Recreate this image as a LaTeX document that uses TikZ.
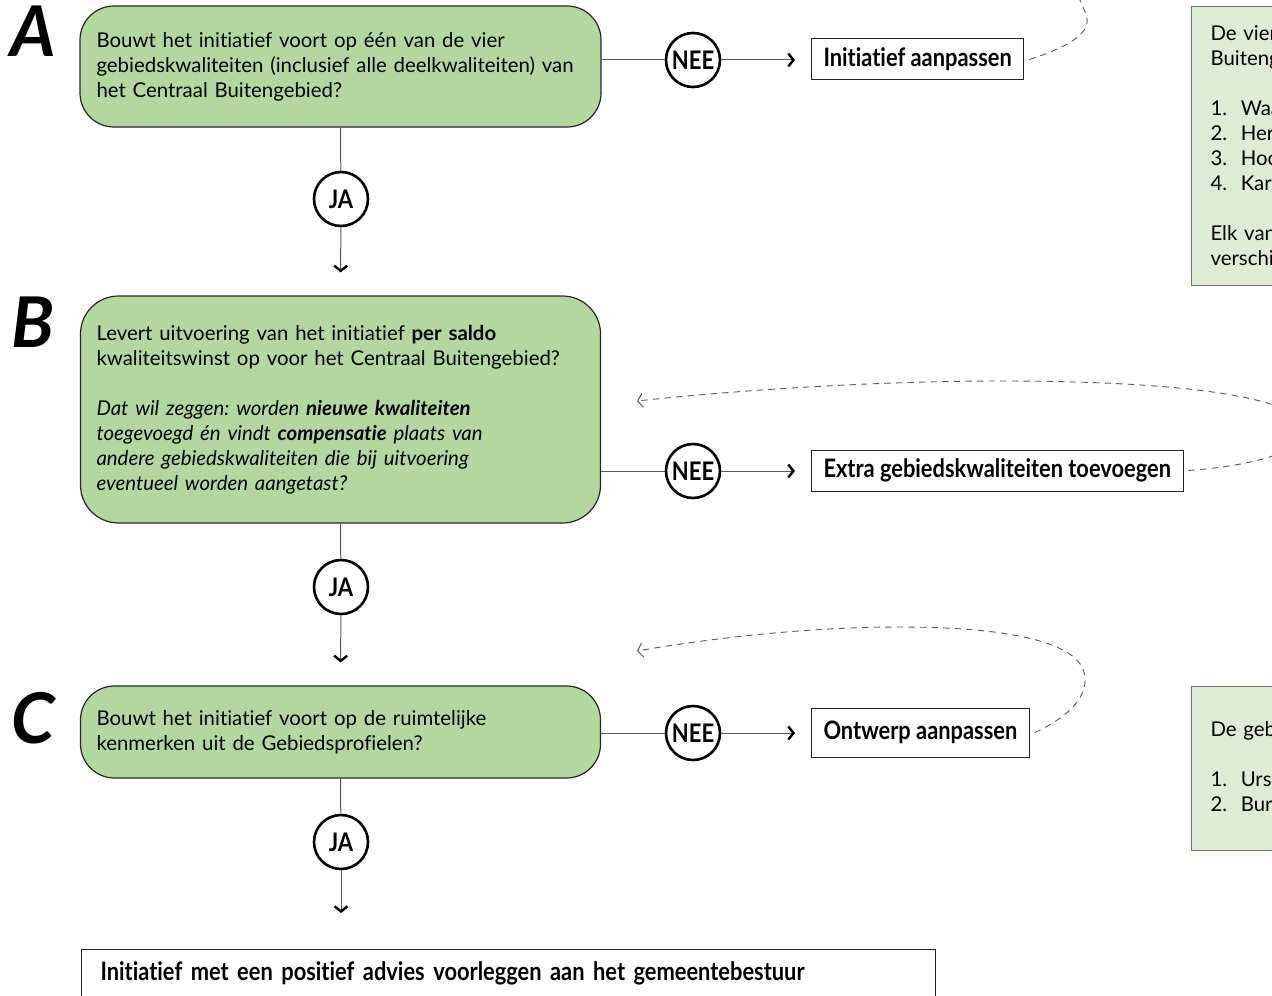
\documentclass[tikz,border=0pt]{standalone}
\usepackage{fontspec}
\setmainfont{Lato}[Ligatures=NoCommon]
\newfontfamily\smalfont[FakeStretch=0.86, Ligatures=NoCommon]{Lato}
\usetikzlibrary{arrows.meta,positioning,calc}
\definecolor{vraaggroen}{RGB}{178,216,160}
\definecolor{infogroen}{RGB}{221,237,213}
\definecolor{lijngrijs}{RGB}{90,90,90}
\frenchspacing

\begin{document}
\begin{tikzpicture}[
    x=0.5pt, y=-0.5pt,
    vraag/.style={draw=black!85, fill=vraaggroen, line width=0.6pt, rounded corners=17pt,
        inner xsep=8pt, text width=244pt, align=left, font=\fontsize{10.2}{12.5}\selectfont},
    letter/.style={font=\fontsize{35}{35}\selectfont\bfseries\itshape},
    keuze/.style={circle, draw, fill=white, line width=1.3pt, minimum size=27pt, inner sep=0pt,
        font=\smalfont\fontsize{12.8}{12.8}\selectfont\bfseries},
    actie/.style={draw=black!85, line width=0.5pt, anchor=west, minimum height=20.5pt, inner xsep=6pt,
        font=\smalfont\fontsize{12.7}{12.7}\selectfont\bfseries},
    info/.style={draw=black!55, fill=infogroen, line width=0.5pt, anchor=north west, inner xsep=9.5pt,
        text width=300pt, align=left, font=\fontsize{10.2}{12.5}\selectfont},
    lijn/.style={lijngrijs, line width=0.5pt},
    pijl/.style={-{Straight Barb[length=2.6pt, width=6.5pt, line width=1.2pt, color=black]}},
    terug/.style={lijngrijs, line width=0.45pt, dash pattern=on 3.2pt off 2.6pt,
        -{Straight Barb[length=2.5pt, width=7pt, line width=0.5pt]}}
]
    \useasboundingbox (0,0) rectangle (1272,995);
    \clip (0,0) rectangle (1272,995);

    % Vraag A
    \node[letter] (la) at (33,31) {A};
    \node[vraag, minimum width=260.5pt, minimum height=60.5pt] (qa) at (340.5,66.5)
        {Bouwt het initiatief voort op één van de vier\\
         gebiedskwaliteiten (inclusief alle deelkwaliteiten) van\\
         het Centraal Buitengebied?};
    \node[keuze] (ja1) at (341,199) {JA};
    \node[keuze] (nee1) at (693,60) {NEE};
    \node[actie] (ia) at (811,59.5) {Initiatief aanpassen};

    % Vraag B
    \node[letter] (lb) at (33,322) {B};
    \node[vraag, minimum width=259.5pt, minimum height=113.5pt, rounded corners=19pt] (qb) at (340.5,409.5)
        {Levert uitvoering van het initiatief \textbf{per saldo}\\
         kwaliteitswinst op voor het Centraal Buitengebied?\\[12.5pt]
         \textit{Dat wil zeggen: worden \textbf{nieuwe kwaliteiten}\\
         toegevoegd én vindt \textbf{compensatie} plaats van\\
         andere gebiedskwaliteiten die bij uitvoering\\
         eventueel worden aangetast?}};
    \node[keuze] (ja2) at (341,587) {JA};
    \node[keuze] (nee2) at (693,471) {NEE};
    \node[actie] (ex) at (811,470.5) {Extra gebiedskwaliteiten toevoegen};

    % Vraag C
    \node[letter] (lc) at (33,718) {C};
    \node[vraag, minimum width=259.5pt, minimum height=46pt] (qc) at (340.5,732)
        {Bouwt het initiatief voort op de ruimtelijke\\
         kenmerken uit de Gebiedsprofielen?};
    \node[keuze] (ja3) at (341,842) {JA};
    \node[keuze] (nee3) at (693,733) {NEE};
    \node[actie, minimum height=24.5pt] (ow) at (811,732.5) {Ontwerp aanpassen};

    % Eindstap
    \node[actie, anchor=north west, minimum width=427pt, minimum height=24pt, inner xsep=9.5pt,
        text width=408pt, align=left] (advies) at (81,949)
        {Initiatief met een positief advies voorleggen aan het gemeentebestuur};

    % Toelichting rechts
    \node[info, minimum height=139.5pt] (kwal) at (1191,6)
        {De vier gebiedskwaliteiten van het Centraal\\
         Buitengebied zijn:\\[12.5pt]
         1.\ \ Waardevol landschap\\
         2.\ \ Herkenbare structuur\\
         3.\ \ Hoogwaardige natuur\\
         4.\ \ Karakteristieke bebouwing\\[12.5pt]
         Elk van deze kwaliteiten kent\\
         verschillende deelkwaliteiten.};
    \node[info, minimum height=82pt] (prof) at (1191,686)
        {De gebiedsprofielen zijn:\\[12.5pt]
         1.\ \ Ursulinenland\\
         2.\ \ Burgerveen};

    % Ja-takken
    \draw[lijn] (qa.south) -- (ja1);
    \draw[lijn, pijl, shorten >=11.5pt] (ja1) -- (qb.north);
    \draw[lijn] (qb.south) -- (ja2);
    \draw[lijn, pijl, shorten >=11.5pt] (ja2) -- (qc.north);
    \draw[lijn] (qc.south) -- (ja3);
    \draw[lijn, pijl, shorten >=18pt] (ja3) -- (advies.north -| ja3);

    % Nee-takken
    \draw[lijn] (nee1) -- (nee1 -| qa.east);
    \draw[lijn, pijl, shorten >=8pt] (nee1) -- (nee1 -| ia.west);
    \draw[lijn] (nee2) -- (nee2 -| qb.east);
    \draw[lijn, pijl, shorten >=8pt] (nee2) -- (nee2 -| ex.west);
    \draw[lijn] (nee3) -- (nee3 -| qc.east);
    \draw[lijn, pijl, shorten >=8pt] (nee3) -- (nee3 -| ow.west);

    % Terugkoppelingen
    \coordinate (terugA) at (1076,-8);
    \coordinate (terugB) at (637,401);
    \coordinate (terugC) at (637,651);
    \draw[terug, -] ([xshift=2.5pt]ia.east) .. controls (1075,45) and (1092,30) .. (1086,15)
        .. controls (1083,6) and (1080,0) .. (terugA);
    \draw[terug] ([xshift=2.5pt]ex.east) .. controls (1260,465) and (1305,450) .. (1305,430)
        .. controls (1305,400) and (1200,381) .. (1000,381)
        .. controls (850,381) and (700,394) .. (terugB);
    \draw[terug] ([xshift=2.5pt]ow.east) .. controls (1070,716) and (1090,695) .. (1084,672)
        .. controls (1075,640) and (1000,627) .. (900,627)
        .. controls (800,627) and (700,640) .. (terugC);
\end{tikzpicture}
\end{document}
